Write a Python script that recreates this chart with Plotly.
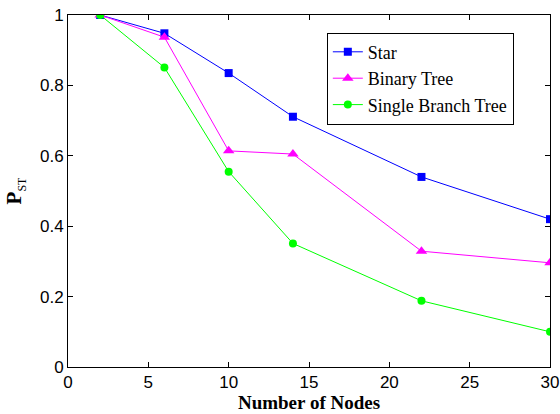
import plotly.graph_objects as go

# Network sizes and measured P_ST for each topology
nodes = [2, 6, 10, 14, 22, 30]
star = [1.0, 0.948, 0.835, 0.711, 0.540, 0.420]
binary_tree = [1.0, 0.937, 0.614, 0.605, 0.329, 0.296]
single_branch = [1.0, 0.851, 0.555, 0.351, 0.188, 0.100]

x_ticks = [0, 5, 10, 15, 20, 25, 30]
y_ticks = [0, 0.2, 0.4, 0.6, 0.8, 1]
y_tick_text = ["0", "0.2", "0.4", "0.6", "0.8", "1"]

SERIF = "Times New Roman"
SANS = "Arial"

fig = go.Figure()
fig.add_trace(go.Scatter(
    x=nodes, y=star, name="Star", mode="lines+markers",
    line=dict(color="#0000ff", width=1),
    marker=dict(symbol="square", size=8, color="#0000ff"),
))
fig.add_trace(go.Scatter(
    x=nodes, y=binary_tree, name="Binary Tree", mode="lines+markers",
    line=dict(color="#ff00ff", width=1),
    marker=dict(symbol="triangle-up", size=10, color="#ff00ff"),
))
fig.add_trace(go.Scatter(
    x=nodes, y=single_branch, name="Single Branch Tree", mode="lines+markers",
    line=dict(color="#00ff00", width=1),
    marker=dict(symbol="circle", size=8, color="#00ff00"),
))

axis_common = dict(
    showgrid=False, zeroline=False, automargin=False,
    showline=True, linecolor="black", linewidth=1, mirror="ticks",
    ticks="inside", ticklen=5, tickcolor="black",
    tickfont=dict(family=SANS, size=17, color="black"),
)

fig.update_xaxes(
    range=[0, 30], tickvals=x_ticks,
    title=dict(text="<b>Number of Nodes</b>", standoff=1,
               font=dict(family=SERIF, size=19, color="black")),
    **axis_common,
)
fig.update_yaxes(
    range=[0, 1], tickvals=y_ticks, ticktext=y_tick_text,
    title=dict(text="<b>P</b><sub><span style='font-size:12px'>ST</span></sub>", standoff=12,
               font=dict(family=SERIF, size=21, color="black")),
    **axis_common,
)

fig.update_layout(
    template="none",
    font=dict(family=SERIF, size=18, color="black"),
    width=560, height=414,
    margin=dict(l=68, r=10, t=15, b=47),
    paper_bgcolor="white", plot_bgcolor="white",
    showlegend=True,
    legend=dict(
        x=0.537, y=0.95, xanchor="left", yanchor="top",
        bgcolor="white", bordercolor="black", borderwidth=1,
        font=dict(family=SERIF, size=18, color="black"),
        tracegroupgap=0, itemwidth=30,
    ),
)

fig.write_html("out.html")
